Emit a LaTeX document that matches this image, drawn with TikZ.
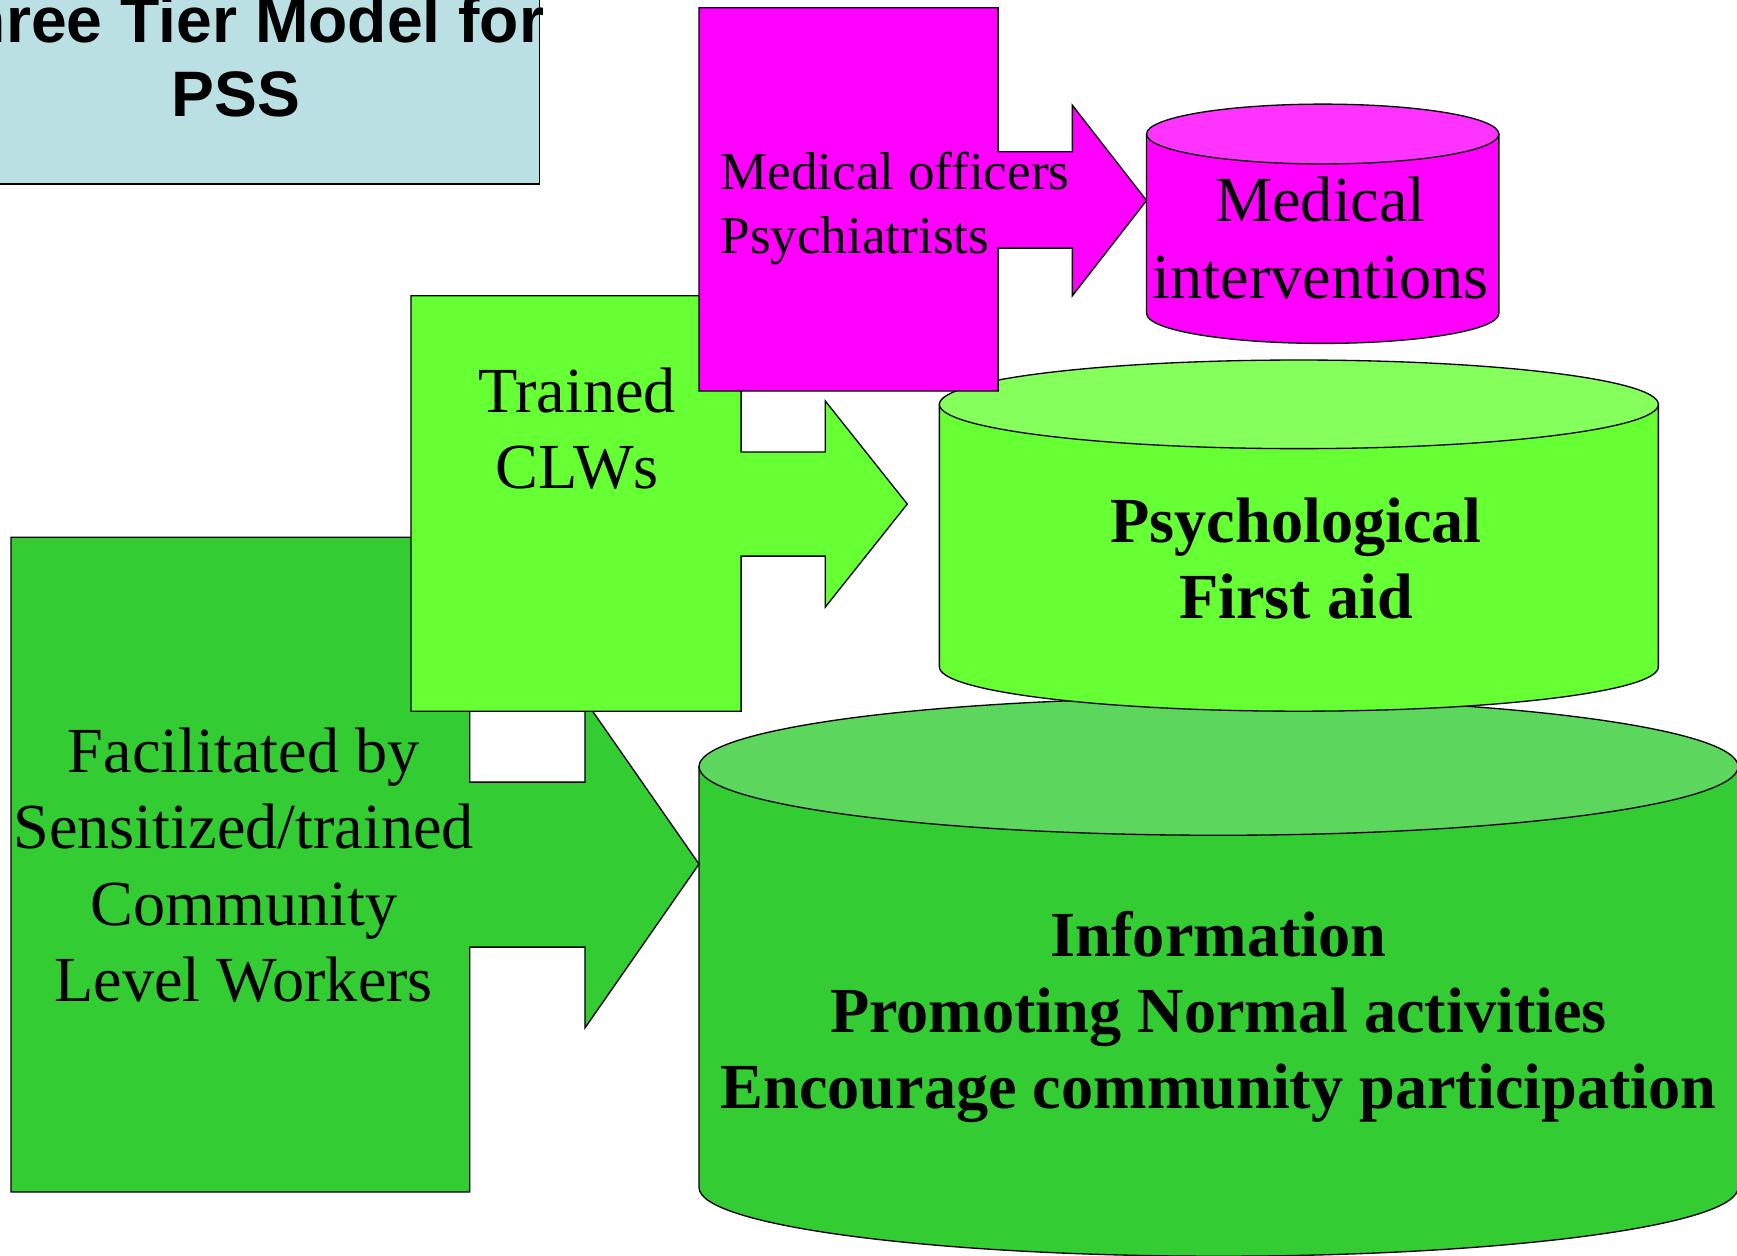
\documentclass[tikz,border=0pt]{standalone}
\usepackage{fontspec}
\setmainfont{Liberation Serif}
\newfontfamily\TitleFont{Liberation Sans}
\usepackage{xcolor}
\definecolor{ColT}{RGB}{187,224,227}
\definecolor{ColM}{RGB}{255,0,255}
\definecolor{ColMTop}{RGB}{255,51,255}
\definecolor{ColL}{RGB}{102,255,51}
\definecolor{ColLTop}{RGB}{133,255,92}
\definecolor{ColD}{RGB}{51,204,51}
\definecolor{ColDTop}{RGB}{92,214,92}
\usepackage{tikz}
\tikzstyle{Shape}=[draw=black,line width=0.6pt,line join=miter]
\tikzstyle{Text}=[inner sep=0pt,align=center,
font=\fontsize{29}{34.5}\selectfont]
\tikzstyle{TextB}=[Text,font=\fontsize{29}{34.5}\selectfont\bfseries]
\tikzstyle{TextS}=[inner sep=0pt,align=left,
font=\fontsize{24}{29}\selectfont]
\tikzstyle{TitleText}=[inner sep=0pt,align=center,
font=\TitleFont\bfseries\fontsize{29}{33.5}\selectfont]

\begin{document}
\begin{tikzpicture}[x=0.5pt,y=-0.5pt]
    \useasboundingbox(0,0)rectangle(1568,1133);
    \clip(0,0)rectangle(1568,1133);
    % cylinders
    \draw[Shape,fill=ColD](631,692)--(631,1072)
        arc[start angle=180,end angle=0,x radius=469,y radius=62]
        --(1569,692)--cycle;
    \draw[Shape,fill=ColDTop](1100,692)ellipse[x radius=469,y radius=62];
    \draw[Shape,fill=ColL](848,365)--(848,602)
        arc[start angle=180,end angle=0,x radius=324.5,y radius=40]
        --(1497,365)--cycle;
    \draw[Shape,fill=ColLTop](1172.5,365)ellipse[x radius=324.5,y radius=40];
    \draw[Shape,fill=ColM](1035,121)--(1035,283)
        arc[start angle=180,end angle=0,x radius=159,y radius=27]
        --(1353,121)--cycle;
    \draw[Shape,fill=ColMTop](1194,121)ellipse[x radius=159,y radius=27];
    % callouts
    \draw[Shape,fill=ColD](10,485)--(424,485)--(424,706)--(528,706)
        --(528,632)--(631,780)--(528,928)--(528,855)--(424,855)
        --(424,1076)--(10,1076)--cycle;
    \draw[Shape,fill=ColL](371,267)--(669,267)--(669,408)--(745,408)
        --(745,362)--(819,455)--(745,548)--(745,502)--(669,502)
        --(669,642)--(371,642)--cycle;
    \draw[Shape,fill=ColM](631,7)--(901,7)--(901,137)--(968,137)
        --(968,95)--(1035,181)--(968,267)--(968,224)--(901,224)
        --(901,353)--(631,353)--cycle;
    \draw[Shape,fill=ColT](-100,-100)rectangle(487,166);
    % texts
    \node[TitleText](title)at(213,51){Three Tier Model for\\PSS};
    \node[Text](clw)at(220,781)
        {Facilitated by\\Sensitized/trained\\Community\\Level Workers};
    \node[Text](trained)at(521,387){Trained\\CLWs};
    \node[TextS,anchor=west](doctors)at(650,188)
        {Medical officers\\Psychiatrists};
    \node[Text](medical)at(1192,215){Medical\\interventions};
    \node[TextB](pfa)at(1170,504){Psychological\\First aid};
    \node[TextB](info)at(1100,918)
        {Information\\Promoting Normal activities\\Encourage community participation};
\end{tikzpicture}
\end{document}
